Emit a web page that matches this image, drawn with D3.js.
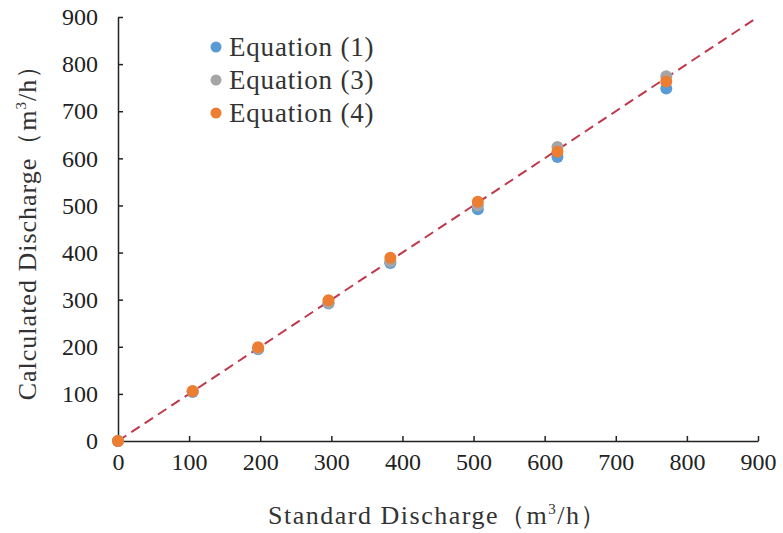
<!DOCTYPE html>
<html>
<head>
<meta charset="utf-8">
<script src="https://cdn.jsdelivr.net/npm/d3@7"></script>
<style>
  body { margin: 0; background: #fff; }
  svg { display: block; }
</style>
</head>
<body>
<div class="chart"></div>
<script>
// data
const standard = [0, 105, 197, 296, 383, 506, 618, 771]
const eq1 = [0, 104, 195, 292, 378, 492, 603, 748]
const eq3 = [0, 105, 196, 293, 381, 500, 624, 774]
const eq4 = [0, 106, 199, 299, 389, 508, 614, 763]
const seriesNames = ['Equation (1)', 'Equation (3)', 'Equation (4)']
const ticks = [0, 100, 200, 300, 400, 500, 600, 700, 800, 900]

const colors = ['#5B9BD5', '#A5A5A5', '#ED7D31']
const series = [eq1, eq3, eq4]

let width = 783
let height = 533
var margin = {top: 17, right: 25, bottom: 92, left: 118}

let x = d3.scaleLinear()
  .domain([0, 900])
  .range([margin.left, width - margin.right])

let y = d3.scaleLinear()
  .domain([0, 900])
  .range([height - margin.bottom, margin.top])

const svg = d3.select('.chart').append('svg')
  .attr('width', width)
  .attr('height', height)
  .attr('viewBox', [0, 0, width, height])

const font = '"Liberation Serif", "Times New Roman", serif'

let xAxis = g => g
  .attr('transform', `translate(0,${y(0)})`)
  .call(d3.axisBottom(x).tickValues(ticks).tickSize(-5).tickPadding(12).tickSizeOuter(0))
  .call(g => g.selectAll('.domain').attr('stroke', '#222').attr('stroke-width', 1.5))
  .call(g => g.selectAll('.tick line').attr('stroke', '#222').attr('stroke-width', 1.5))
  .call(g => g.selectAll('text').attr('font-family', font).attr('font-size', 24).attr('fill', '#222'))

let yAxis = g => g
  .attr('transform', `translate(${x(0)},0)`)
  .call(d3.axisLeft(y).tickValues(ticks).tickSize(-5).tickPadding(20).tickSizeOuter(0))
  .call(g => g.selectAll('.domain').attr('stroke', '#222').attr('stroke-width', 1.5))
  .call(g => g.selectAll('.tick line').attr('stroke', '#222').attr('stroke-width', 1.5))
  .call(g => g.selectAll('text').attr('font-family', font).attr('font-size', 24).attr('fill', '#222'))

svg.append('g').call(xAxis)
svg.append('g').call(yAxis)

// 1:1 line
svg.append('line')
  .attr('x1', x(0)).attr('y1', y(0))
  .attr('x2', x(900)).attr('y2', y(900))
  .attr('stroke', '#C0394B')
  .attr('stroke-width', 2)
  .attr('stroke-dasharray', '10,6')

series.forEach((s, k) => {
  svg.append('g')
      .attr('fill', colors[k])
    .selectAll('circle')
    .data(s)
    .join('circle')
      .attr('cx', (d, i) => x(standard[i]))
      .attr('cy', d => y(d))
      .attr('r', 6)
})

// legend
const legend = svg.append('g')
  .attr('font-family', font)
  .attr('font-size', 27)
  .attr('letter-spacing', 0.8)
  .attr('fill', '#333')
seriesNames.forEach((name, k) => {
  const ly = 47 + k * 33
  legend.append('circle')
    .attr('cx', 216).attr('cy', ly).attr('r', 5.5)
    .attr('fill', colors[k])
  legend.append('text')
    .attr('x', 229).attr('y', ly).attr('dy', '0.35em')
    .text(name)
})

// axis titles
svg.append('text')
  .attr('x', 438).attr('y', 524)
  .attr('text-anchor', 'middle')
  .attr('font-family', font)
  .attr('font-size', 26)
  .attr('letter-spacing', 1.5)
  .attr('fill', '#333')
  .html('Standard Discharge（m<tspan font-size="15" dy="-10">3</tspan><tspan dy="10">/h）</tspan>')

svg.append('text')
  .attr('transform', 'translate(36,226) rotate(-90)')
  .attr('text-anchor', 'middle')
  .attr('font-family', font)
  .attr('font-size', 26)
  .attr('letter-spacing', 1)
  .attr('fill', '#333')
  .html('Calculated Discharge（m<tspan font-size="15" dy="-10">3</tspan><tspan dy="10">/h）</tspan>')
</script>
</body>
</html>
